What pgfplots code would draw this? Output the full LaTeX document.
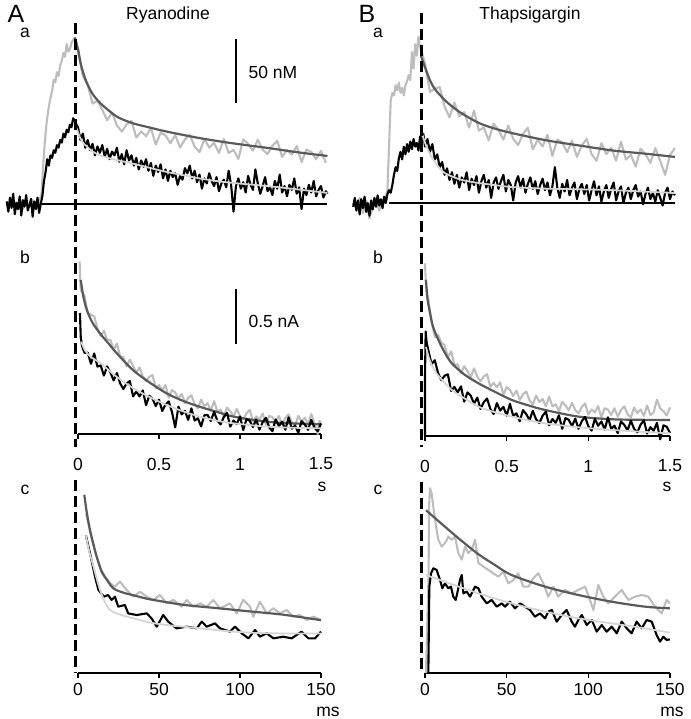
\documentclass[border=0pt]{standalone}
\usepackage{fontspec}
\setmainfont{Liberation Sans}
\usepackage{pgfplots}
\pgfplotsset{compat=1.18}

\definecolor{tgray}{HTML}{BDBDBD}
\definecolor{fitdark}{HTML}{5A5A5A}
\definecolor{fitlight}{HTML}{D4D4D4}
\newcommand{\lab}{\fontsize{17.5}{20}\selectfont}
\newcommand{\biglab}{\fontsize{25}{28}\selectfont}

\begin{document}
\begin{tikzpicture}[x=1pt,y=1pt]
\pgfplotsset{
  every axis/.append style={scale only axis, clip=false},
  ng/.style={tgray, line width=2.1pt, line join=round},
  nk/.style={black, line width=2.1pt, line join=round},
  fd/.style={fitdark, line width=2.2pt, smooth},
  fl/.style={fitlight, line width=1.8pt, smooth},
  rowa/.style={hide axis, xmin=0, xmax=1.5, ymin=0, ymax=150, height=192pt},
  tickaxis/.style={axis x line*=bottom, axis y line=none, ytick=\empty,
    x axis line style={-, line width=1.4pt},
    tick align=outside, major tick length=5pt,
    xtick style={line width=1.4pt, black},
    xticklabel style={font=\lab, anchor=center}},
  rowb/.style={tickaxis, xmin=0, xmax=1.5, ymin=0, ymax=1.8, height=198pt,
    xtick={0,0.5,1,1.5}, xticklabels={0,0.5,1,1.5},
    xticklabel style={yshift=-25pt}},
  rowc/.style={tickaxis, xmin=0, xmax=150, ymin=0, ymax=1.8, height=198pt,
    xtick={0,50,100,150}, xticklabels={0,50,100,150},
    xticklabel style={yshift=-11pt}},
}

% ---------------- A a : Ryanodine, [Ca] (nM vs s) ----------------
\begin{axis}[rowa, width=243pt, at={(78pt,515pt)}, anchor=south west]
\addplot[black, line width=1.3pt] coordinates {(-0.22,0) (1.54,0)};
\addplot[ng] coordinates {
(-0.44,2) (-0.42,-3) (-0.40,4) (-0.38,-2) (-0.36,3) (-0.34,-4) (-0.32,1) (-0.30,-2)
(-0.28,3) (-0.26,-1) (-0.24,2) (-0.225,8) (-0.215,30) (-0.205,48) (-0.195,62) (-0.185,72)
(-0.173,81) (-0.16,88) (-0.15,97) (-0.14,95) (-0.13,103) (-0.12,100) (-0.11,108) (-0.10,112)
(-0.09,118) (-0.08,115) (-0.07,125) (-0.06,119) (-0.05,121) (-0.04,126) (-0.03,128) (-0.02,130)
(0.00,119) (0.03,100) (0.06,93) (0.09,78.4) (0.12,80.7) (0.15,73.5) (0.18,65.4) (0.21,71.4)
(0.24,61.5) (0.27,56.5) (0.30,62.2) (0.33,65) (0.36,51.9) (0.39,56.7) (0.42,52.9) (0.45,59.3)
(0.48,46.4) (0.51,55.7) (0.54,53.6) (0.57,47.4) (0.60,53.8) (0.63,44.1) (0.66,50.5) (0.69,54)
(0.72,44.8) (0.75,40.5) (0.78,50.7) (0.81,44.1) (0.84,47.7) (0.87,39.9) (0.90,50.7) (0.93,39.9)
(0.96,42.3) (0.99,35.2) (1.02,50.5) (1.05,46.9) (1.08,41.7) (1.11,50.2) (1.14,42.5) (1.17,39)
(1.20,45.6) (1.23,49.3) (1.26,36.7) (1.29,42.2) (1.32,38.6) (1.35,45.3) (1.38,32.8) (1.41,42.5)
(1.44,40.8) (1.47,34.9) (1.50,41.6) (1.53,32.1)};
\addplot[fd] coordinates {
(-0.02,130) (0.0,121) (0.02,108) (0.05,96) (0.09,86) (0.14,78.5) (0.2,72) (0.25,67.5)
(0.34,63) (0.45,59.5) (0.55,56.5) (0.75,51.5) (0.95,47.5) (1.17,43.8) (1.35,40.5) (1.54,37.5)};
\addplot[nk] coordinates {
(-0.44,2) (-0.43,-6) (-0.42,5) (-0.41,-3) (-0.40,8) (-0.39,-8) (-0.38,1) (-0.37,-4)
(-0.36,6) (-0.35,-9) (-0.34,3) (-0.33,-2) (-0.32,7) (-0.31,-5) (-0.30,-1) (-0.29,4)
(-0.28,-10) (-0.27,2) (-0.26,-4) (-0.25,5) (-0.24,-7) (-0.23,0) (-0.22,6) (-0.21,18)
(-0.20,25) (-0.19,35) (-0.18,30) (-0.17,38) (-0.16,36) (-0.15,42) (-0.14,40) (-0.13,46)
(-0.12,44) (-0.11,50) (-0.10,48) (-0.09,55) (-0.08,52) (-0.07,58) (-0.06,56) (-0.05,62)
(-0.04,60) (-0.03,67) (-0.02,65) (-0.01,62) (0.0,60) (0.015,50) (0.03,55) (0.045,44)
(0.06,50) (0.075,42) (0.09,47) (0.105,38) (0.12,45) (0.135,40) (0.15,46) (0.165,37)
(0.18,43) (0.195,35) (0.21,41) (0.225,38) (0.24,44) (0.255,33) (0.27,39) (0.285,31)
(0.30,42) (0.315,34) (0.33,38) (0.345,30) (0.36,36) (0.375,27) (0.39,34) (0.405,29)
(0.42,35) (0.435,26) (0.45,32) (0.465,22) (0.48,30) (0.495,25) (0.51,31) (0.525,20)
(0.54,27) (0.555,18) (0.57,26) (0.585,21) (0.60,24) (0.615,15) (0.63,22) (0.645,19)
(0.66,28) (0.675,24) (0.69,30) (0.705,20) (0.72,26) (0.735,17) (0.75,23) (0.765,12)
(0.78,20) (0.795,16) (0.81,24) (0.825,18) (0.84,14) (0.855,21) (0.87,10) (0.885,16)
(0.90,19) (0.915,13) (0.93,26) (0.945,15) (0.96,-6) (0.975,14) (0.99,20) (1.005,12)
(1.02,17) (1.035,9) (1.05,22) (1.065,15) (1.08,11) (1.095,27) (1.11,16) (1.125,8)
(1.14,14) (1.155,21) (1.17,10) (1.185,13) (1.20,7) (1.215,18) (1.23,12) (1.245,23)
(1.26,9) (1.275,14) (1.29,6) (1.305,15) (1.32,11) (1.335,20) (1.35,8) (1.365,13)
(1.38,-4) (1.395,12) (1.41,7) (1.425,15) (1.44,9) (1.455,18) (1.47,6) (1.485,11)
(1.50,14) (1.515,5) (1.53,10) (1.54,8)};
\addplot[fl] coordinates {
(-0.02,63) (0.0,56) (0.012,52) (0.03,48) (0.054,45) (0.09,41) (0.136,38) (0.2,35.5)
(0.27,33.5) (0.34,31.5) (0.45,28) (0.55,25) (0.65,22.5) (0.75,20) (0.85,18) (0.96,16.4)
(1.17,14) (1.35,11.5) (1.54,8.6)};
\end{axis}

% ---------------- B a : Thapsigargin, [Ca] (nM vs s) ----------------
\begin{axis}[rowa, width=245pt, at={(425pt,516pt)}, anchor=south west]
\addplot[black, line width=1.3pt] coordinates {(-0.22,0) (1.53,0)};
\addplot[ng] coordinates {
(-0.44,0) (-0.42,-5) (-0.40,4) (-0.38,-8) (-0.36,2) (-0.34,-12) (-0.32,-3) (-0.30,3)
(-0.28,-6) (-0.26,2) (-0.24,5) (-0.23,10) (-0.22,45) (-0.21,80) (-0.20,86) (-0.19,84)
(-0.18,92) (-0.17,88) (-0.16,94) (-0.15,86) (-0.14,90) (-0.13,84) (-0.12,92) (-0.11,95)
(-0.10,100) (-0.09,96) (-0.08,118) (-0.07,105) (-0.06,124) (-0.05,115) (-0.04,130) (-0.03,122)
(-0.02,118) (0.00,108.8) (0.03,86.8) (0.06,89.4) (0.09,90.5) (0.12,75.3) (0.15,67) (0.18,78.4)
(0.21,67.7) (0.24,71) (0.27,58.9) (0.30,72.1) (0.33,56.5) (0.36,59) (0.39,48.9) (0.42,62)
(0.45,56.9) (0.48,49.5) (0.51,60.5) (0.54,50.1) (0.57,45.2) (0.60,54) (0.63,58.8) (0.66,42)
(0.69,49.2) (0.72,44.3) (0.75,53.2) (0.78,36.6) (0.81,49.6) (0.84,47.4) (0.87,39.6) (0.90,48.6)
(0.93,36) (0.96,45) (0.99,50) (1.02,38.3) (1.05,32.9) (1.08,46.7) (1.11,38.2) (1.14,43.2)
(1.17,33.1) (1.20,47.9) (1.23,33.9) (1.26,37.6) (1.29,28.4) (1.32,42.4) (1.35,38.1) (1.38,31.3)
(1.41,42.9) (1.44,32.9) (1.47,22) (1.50,37.6) (1.53,42.8)};
\addplot[fd] coordinates {
(-0.025,115) (0.0,106) (0.03,96) (0.06,89) (0.12,80.5) (0.17,75) (0.225,70) (0.33,62.5)
(0.43,58) (0.53,54.7) (0.74,49) (0.94,45) (1.15,41) (1.35,38.5) (1.53,36)};
\addplot[nk] coordinates {
(-0.44,-3) (-0.43,4) (-0.42,-6) (-0.41,2) (-0.40,-9) (-0.39,3) (-0.38,-4) (-0.37,5)
(-0.36,-7) (-0.35,0) (-0.34,-10) (-0.33,2) (-0.32,-5) (-0.31,4) (-0.30,-3) (-0.29,6)
(-0.28,-2) (-0.27,3) (-0.26,-4) (-0.25,5) (-0.24,0) (-0.23,7) (-0.22,10) (-0.21,8)
(-0.20,14) (-0.19,22) (-0.18,28) (-0.17,25) (-0.16,35) (-0.15,40) (-0.14,34) (-0.13,44)
(-0.12,38) (-0.11,46) (-0.10,40) (-0.09,48) (-0.08,42) (-0.07,50) (-0.06,44) (-0.05,47)
(-0.04,41) (-0.03,52) (-0.02,48) (-0.01,54) (0.0,44) (0.015,50) (0.03,40) (0.045,46)
(0.06,34) (0.075,38) (0.09,28) (0.105,32) (0.12,22) (0.135,27) (0.15,18) (0.165,24)
(0.18,15) (0.195,22) (0.21,12) (0.225,20) (0.24,16) (0.255,24) (0.27,10) (0.285,19)
(0.30,14) (0.315,21) (0.33,8) (0.345,17) (0.36,22) (0.375,12) (0.39,18) (0.405,4)
(0.42,16) (0.435,20) (0.45,11) (0.465,17) (0.48,22) (0.495,9) (0.51,18) (0.525,14)
(0.54,2) (0.555,16) (0.57,21) (0.585,12) (0.60,19) (0.615,8) (0.63,15) (0.645,20)
(0.66,11) (0.675,17) (0.69,7) (0.705,14) (0.72,19) (0.735,10) (0.75,16) (0.765,6)
(0.78,13) (0.795,28) (0.81,12) (0.825,4) (0.84,15) (0.855,9) (0.87,18) (0.885,6)
(0.90,12) (0.915,16) (0.93,3) (0.945,11) (0.96,15) (0.975,7) (0.99,14) (1.005,2)
(1.02,10) (1.035,17) (1.05,6) (1.065,13) (1.08,1) (1.095,9) (1.11,14) (1.125,4)
(1.14,11) (1.155,16) (1.17,2) (1.185,9) (1.20,13) (1.215,0) (1.23,8) (1.245,12)
(1.26,3) (1.275,10) (1.29,14) (1.305,5) (1.32,9) (1.335,-1) (1.35,7) (1.365,12)
(1.38,3) (1.395,8) (1.41,1) (1.425,10) (1.44,4) (1.455,-2) (1.47,8) (1.485,12)
(1.50,3) (1.515,9) (1.53,6)};
\addplot[fl] coordinates {
(-0.02,55) (0.0,47) (0.02,41) (0.04,36) (0.08,28.5) (0.12,23.5) (0.17,20.5) (0.225,18)
(0.33,15.6) (0.53,12.5) (0.74,11.2) (0.94,10.7) (1.15,10) (1.53,7.8)};
\end{axis}

% ---------------- A b : current (nA vs s) ----------------
\begin{axis}[rowb, width=243pt, at={(78pt,285pt)}, anchor=south west]
\addplot[ng] coordinates {
(0.010,1.57) (0.015,1.35) (0.02,1.30) (0.04,1.26) (0.06,1.095) (0.08,1.085) (0.10,1.07) (0.12,0.96)
(0.14,0.89) (0.16,0.94) (0.18,0.855) (0.20,0.855) (0.22,0.765) (0.24,0.823) (0.26,0.705) (0.28,0.70)
(0.30,0.615) (0.32,0.675) (0.34,0.62) (0.36,0.555) (0.38,0.605) (0.40,0.525) (0.42,0.48) (0.44,0.52)
(0.46,0.535) (0.48,0.415) (0.50,0.445) (0.52,0.40) (0.54,0.445) (0.56,0.33) (0.58,0.40) (0.60,0.378)
(0.62,0.32) (0.64,0.366) (0.66,0.28) (0.68,0.328) (0.70,0.352) (0.72,0.272) (0.74,0.232) (0.76,0.313)
(0.78,0.254) (0.80,0.28) (0.82,0.211) (0.84,0.298) (0.86,0.205) (0.88,0.221) (0.90,0.158) (0.92,0.24)
(0.94,0.206) (0.96,0.158) (0.98,0.228) (1.00,0.163) (1.02,0.133) (1.04,0.188) (1.06,0.219) (1.08,0.114)
(1.10,0.16) (1.12,0.131) (1.14,0.187) (1.16,0.083) (1.18,0.165) (1.20,0.153) (1.22,0.106) (1.24,0.164)
(1.26,0.087) (1.28,0.145) (1.30,0.178) (1.32,0.107) (1.34,0.076) (1.36,0.165) (1.38,0.114) (1.40,0.148)
(1.42,0.087) (1.44,0.181) (1.46,0.095) (1.48,0.0) (1.49,0.12) (1.50,0.10)};
\addplot[fd] coordinates {
(0.017,1.40) (0.033,1.25) (0.054,1.13) (0.09,1.01) (0.136,0.915) (0.19,0.82) (0.24,0.733) (0.34,0.58)
(0.45,0.46) (0.55,0.367) (0.65,0.30) (0.75,0.248) (0.86,0.20) (0.96,0.158) (1.165,0.112) (1.35,0.095)
(1.5,0.088)};
\addplot[nk] coordinates {
(0.012,1.10) (0.017,0.88) (0.025,0.80) (0.04,0.738) (0.06,0.74) (0.08,0.638) (0.10,0.732) (0.12,0.613)
(0.14,0.623) (0.16,0.531) (0.18,0.614) (0.20,0.559) (0.22,0.487) (0.24,0.554) (0.26,0.46) (0.28,0.409)
(0.30,0.46) (0.32,0.481) (0.34,0.342) (0.36,0.386) (0.38,0.341) (0.40,0.397) (0.42,0.262) (0.44,0.348)
(0.46,0.321) (0.48,0.254) (0.50,0.312) (0.52,0.209) (0.54,0.267) (0.56,0.296) (0.58,0.20) (0.60,0.06)
(0.62,0.249) (0.64,0.178) (0.66,0.21) (0.68,0.128) (0.70,0.233) (0.72,0.122) (0.74,0.143) (0.76,0.069)
(0.78,0.17) (0.80,0.173) (0.82,0.118) (0.84,0.201) (0.86,0.122) (0.88,0.087) (0.90,0.154) (0.92,0.192)
(0.94,0.067) (0.96,0.123) (0.98,0.09) (1.00,0.159) (1.02,0.036) (1.04,0.135) (1.06,0.12) (1.08,0.063)
(1.10,0.132) (1.12,0.039) (1.14,0.108) (1.16,0.147) (1.18,0.062) (1.20,0.025) (1.22,0.132) (1.24,0.071)
(1.26,0.112) (1.28,0.039) (1.30,0.151) (1.32,0.048) (1.34,0.077) (1.36,0.01) (1.38,0.117) (1.40,0.087)
(1.42,0.038) (1.44,0.128) (1.46,0.055) (1.48,0.025) (1.50,0.096)};
\addplot[fl] coordinates {
(0.02,0.84) (0.043,0.76) (0.08,0.70) (0.136,0.648) (0.19,0.58) (0.239,0.52) (0.342,0.415) (0.45,0.33)
(0.547,0.264) (0.65,0.205) (0.753,0.158) (0.86,0.12) (0.959,0.097) (1.165,0.067) (1.35,0.056) (1.5,0.052)};
\end{axis}

% ---------------- B b : current (nA vs s) ----------------
\begin{axis}[rowb, width=245pt, at={(425pt,283pt)}, anchor=south west]
\addplot[ng] coordinates {
(0.0,1.57) (0.005,1.40) (0.01,1.30) (0.02,1.25) (0.04,1.04) (0.06,0.90) (0.08,0.92) (0.10,0.85)
(0.12,0.825) (0.14,0.715) (0.16,0.77) (0.18,0.65) (0.20,0.65) (0.22,0.57) (0.24,0.635) (0.26,0.59)
(0.28,0.53) (0.30,0.615) (0.32,0.54) (0.34,0.498) (0.36,0.542) (0.38,0.562) (0.40,0.447) (0.42,0.483)
(0.44,0.443) (0.46,0.488) (0.48,0.373) (0.50,0.444) (0.52,0.42) (0.54,0.363) (0.56,0.413) (0.58,0.328)
(0.60,0.379) (0.62,0.404) (0.64,0.325) (0.66,0.287) (0.68,0.368) (0.70,0.31) (0.72,0.337) (0.74,0.27)
(0.76,0.359) (0.78,0.268) (0.80,0.287) (0.82,0.226) (0.84,0.31) (0.86,0.279) (0.88,0.233) (0.90,0.302)
(0.92,0.236) (0.94,0.206) (0.96,0.264) (0.98,0.296) (1.00,0.194) (1.02,0.241) (1.04,0.214) (1.06,0.272)
(1.08,0.169) (1.10,0.252) (1.12,0.24) (1.14,0.192) (1.16,0.252) (1.18,0.176) (1.20,0.236) (1.22,0.27)
(1.24,0.199) (1.26,0.169) (1.28,0.258) (1.30,0.208) (1.32,0.242) (1.34,0.182) (1.36,0.277) (1.38,0.191)
(1.40,0.216) (1.42,0.33) (1.44,0.25) (1.46,0.225) (1.48,0.185) (1.50,0.26)};
\addplot[fd] coordinates {
(0.006,1.42) (0.015,1.25) (0.031,1.115) (0.05,0.99) (0.082,0.873) (0.12,0.76) (0.164,0.661) (0.24,0.56)
(0.327,0.479) (0.43,0.40) (0.532,0.327) (0.64,0.275) (0.736,0.236) (0.94,0.176) (1.145,0.152) (1.33,0.147)
(1.5,0.145)};
\addplot[nk] coordinates {
(0.0,0.0) (0.0,0.55) (0.004,0.95) (0.01,0.85) (0.02,0.782) (0.04,0.654) (0.06,0.689) (0.08,0.572)
(0.10,0.507) (0.12,0.548) (0.14,0.561) (0.16,0.41) (0.18,0.446) (0.20,0.396) (0.22,0.451) (0.24,0.312)
(0.26,0.396) (0.28,0.366) (0.30,0.294) (0.32,0.349) (0.34,0.246) (0.36,0.308) (0.38,0.34) (0.40,0.246)
(0.42,0.20) (0.44,0.299) (0.46,0.231) (0.48,0.265) (0.50,0.185) (0.52,0.292) (0.54,0.183) (0.56,0.206)
(0.58,0.134) (0.60,0.235) (0.62,0.199) (0.64,0.144) (0.66,0.229) (0.68,0.152) (0.70,0.117) (0.72,0.184)
(0.74,0.221) (0.76,0.097) (0.78,0.154) (0.80,0.12) (0.82,0.188) (0.84,0.065) (0.86,0.163) (0.88,0.148)
(0.90,0.09) (0.92,0.158) (0.94,0.065) (0.96,0.135) (0.98,0.174) (1.00,0.088) (1.02,0.049) (1.04,0.155)
(1.06,0.093) (1.08,0.132) (1.10,0.058) (1.12,0.17) (1.14,0.065) (1.16,0.094) (1.18,0.026) (1.20,0.132)
(1.22,0.101) (1.24,0.051) (1.26,0.139) (1.28,0.065) (1.30,0.033) (1.32,0.103) (1.34,0.143) (1.36,0.022)
(1.38,0.08) (1.40,0.048) (1.42,0.119) (1.44,-0.03) (1.46,0.097) (1.48,0.084) (1.50,0.028)};
\addplot[fl] coordinates {
(0.006,0.81) (0.02,0.73) (0.037,0.66) (0.07,0.57) (0.123,0.479) (0.17,0.41) (0.225,0.358) (0.327,0.267)
(0.43,0.215) (0.532,0.176) (0.64,0.14) (0.736,0.115) (0.94,0.079) (1.145,0.055) (1.33,0.038) (1.50,0.024)};
\end{axis}

% ---------------- A c : current (nA vs ms) ----------------
\begin{axis}[rowc, width=243pt, at={(78pt,46pt)}, anchor=south west]
\addplot[ng] coordinates {
(5,1.45) (8,1.25) (11,1.08) (14,0.95) (17,0.87) (19.8,0.815) (22.8,0.785) (25.9,0.83)
(30.0,0.755) (34.2,0.694) (38.3,0.739) (42.4,0.694) (46.5,0.664) (50.6,0.709) (54.7,0.633) (58.8,0.664)
(64,0.603) (67.1,0.664) (71.2,0.603) (75.3,0.633) (79.4,0.603) (83.5,0.664) (87.7,0.588) (93.8,0.633)
(98,0.542) (102,0.664) (106.2,0.603) (108.2,0.512) (112.3,0.648) (116.5,0.542) (120.6,0.588) (124.7,0.542)
(128.8,0.573) (132.9,0.512) (137,0.527) (141.2,0.482) (145.3,0.512) (150,0.482)};
\addplot[fd] coordinates {
(3.9,1.62) (5.3,1.47) (7.4,1.30) (9.5,1.17) (11.5,1.06) (14.6,0.92) (17.7,0.85) (21.8,0.77)
(28,0.73) (36,0.70) (44.4,0.67) (65,0.62) (85.6,0.59) (106,0.56) (126.7,0.53) (150,0.48)};
\addplot[nk] coordinates {
(4.9,1.25) (7.4,1.09) (10.5,0.876) (12.6,0.755) (16.0,0.694) (18.6,0.709) (20.7,0.664) (22.8,0.694)
(24.8,0.603) (28.9,0.618) (31.0,0.542) (36.2,0.527) (42.4,0.542) (45.4,0.497) (48.6,0.421) (52.6,0.527)
(55.7,0.467) (60.8,0.406) (67.1,0.421) (73.3,0.406) (76.4,0.467) (79.4,0.421) (84.6,0.451) (87.7,0.406)
(93.8,0.376) (96.9,0.421) (101,0.361) (105.2,0.315) (109.3,0.391) (112.3,0.33) (116.5,0.361) (120.6,0.315)
(126.7,0.33) (131.9,0.315) (138,0.376) (142.2,0.315) (146.3,0.315) (150,0.376)};
\addplot[fl] coordinates {
(4.9,1.25) (7,1.10) (9.5,0.97) (11.5,0.86) (13.6,0.755) (16.5,0.65) (19.8,0.573) (26,0.53)
(34.2,0.497) (44,0.46) (54.7,0.436) (75.3,0.406) (95.9,0.376) (116.5,0.361) (150,0.36)};
\end{axis}

% ---------------- B c : current (nA vs ms) ----------------
\begin{axis}[rowc, width=245pt, at={(425pt,46pt)}, anchor=south west]
\addplot[ng] coordinates {
(0.6,0.0) (2.2,0.906) (2.45,1.51) (3.06,1.68) (4.1,1.63) (5.1,1.51) (7.1,1.30) (8.2,1.21)
(10.2,1.15) (12.2,1.18) (14.3,1.24) (16.3,1.21) (18.4,1.24) (20.4,1.09) (22.5,1.03) (24.5,1.15)
(26.5,1.09) (28.6,1.12) (30.6,1.21) (32.7,1.00) (35.7,0.967) (38.8,0.937) (41.8,0.906) (44.9,0.876)
(48.0,0.921) (51.0,0.815) (54.1,0.846) (57.1,0.906) (60.2,0.785) (63.3,0.785) (66.3,0.861) (69.4,0.906)
(72.4,0.815) (75.5,0.694) (78.6,0.785) (81.6,0.694) (85.7,0.755) (89.8,0.724) (93.9,0.755) (98.0,0.785)
(101.0,0.664) (103.1,0.573) (106.1,0.800) (109.2,0.694) (112.2,0.633) (116.3,0.694) (120.4,0.755) (124.5,0.664)
(128.6,0.694) (132.7,0.709) (136.7,0.694) (140.8,0.603) (144.9,0.542) (147.9,0.664) (149.9,0.633)};
\addplot[fd] coordinates {
(0.6,1.48) (12.2,1.33) (22.5,1.20) (32.7,1.08) (43,0.98) (53.1,0.89) (73.5,0.785) (93.9,0.709)
(114.3,0.648) (134.7,0.603) (149.9,0.588)};
\addplot[nk] coordinates {
(2.04,0.0) (2.65,0.784) (3.7,0.906) (5.1,0.952) (7.1,0.937) (9.2,0.846) (10.6,0.77) (12.2,0.815)
(14.3,0.77) (15.9,0.785) (17.3,0.694) (18.8,0.664) (20.4,0.77) (21.4,0.846) (22.5,0.891) (23.5,0.724)
(25.5,0.740) (27.6,0.694) (30.6,0.785) (32.7,0.77) (34.7,0.694) (37.8,0.633) (40.8,0.664) (43.9,0.603)
(47.0,0.633) (49.0,0.603) (52.0,0.648) (55.1,0.588) (58.2,0.633) (61.2,0.603) (64.3,0.573) (67.3,0.512)
(70.4,0.542) (73.5,0.497) (75.5,0.558) (77.6,0.573) (80.6,0.467) (83.7,0.527) (86.7,0.573) (89.8,0.467)
(91.8,0.421) (93.9,0.482) (96.0,0.527) (99.0,0.436) (102.1,0.482) (105.1,0.376) (108.2,0.436) (111.2,0.376)
(114.3,0.421) (117.4,0.361) (120.4,0.467) (123.5,0.406) (126.5,0.361) (129.6,0.467) (132.7,0.406) (135.7,0.482)
(138.8,0.467) (141.8,0.346) (143.9,0.285) (145.9,0.330) (148.0,0.300) (149.9,0.306)};
\addplot[fl] coordinates {
(0.6,0.891) (12.2,0.83) (32.7,0.724) (53.1,0.633) (73.5,0.558) (93.9,0.497) (114.3,0.451) (134.7,0.406)
(149.9,0.367)};
\end{axis}

% ---------------- dashed stimulus lines ----------------
\begin{scope}[line width=3pt, dash pattern=on 11pt off 5pt]
\draw (75,696) -- (75,272);
\draw (75,239) -- (75,46);
\draw (421,706) -- (421,272);
\draw (421,237) -- (421,46);
\end{scope}

% ---------------- scale bars ----------------
\draw[line width=2.6pt] (236,680) -- (236,616);
\node[anchor=west, font=\lab] at (245,647) {50 nM};
\draw[line width=2.6pt] (236,430) -- (236,375);
\node[anchor=west, font=\lab] at (245,398) {0.5 nA};

% ---------------- labels ----------------
\node[anchor=west, font=\biglab] at (4,705) {A};
\node[anchor=west, font=\biglab] at (355,705) {B};
\node[font=\lab] at (168,704) {Ryanodine};
\node[font=\lab] at (530,704) {Thapsigargin};
\node[font=\lab] at (25,686) {a};
\node[font=\lab] at (378,686) {a};
\node[font=\lab] at (25,462) {b};
\node[font=\lab] at (378,462) {b};
\node[font=\lab] at (25,229) {c};
\node[font=\lab] at (378,229) {c};
\node[font=\lab] at (322,232) {s};
\node[font=\lab] at (667,232) {s};
\node[font=\lab] at (328,7) {ms};
\node[font=\lab] at (672,7) {ms};

\pgfresetboundingbox
\path (0,0) rectangle (690,719);
\end{tikzpicture}
\end{document}
